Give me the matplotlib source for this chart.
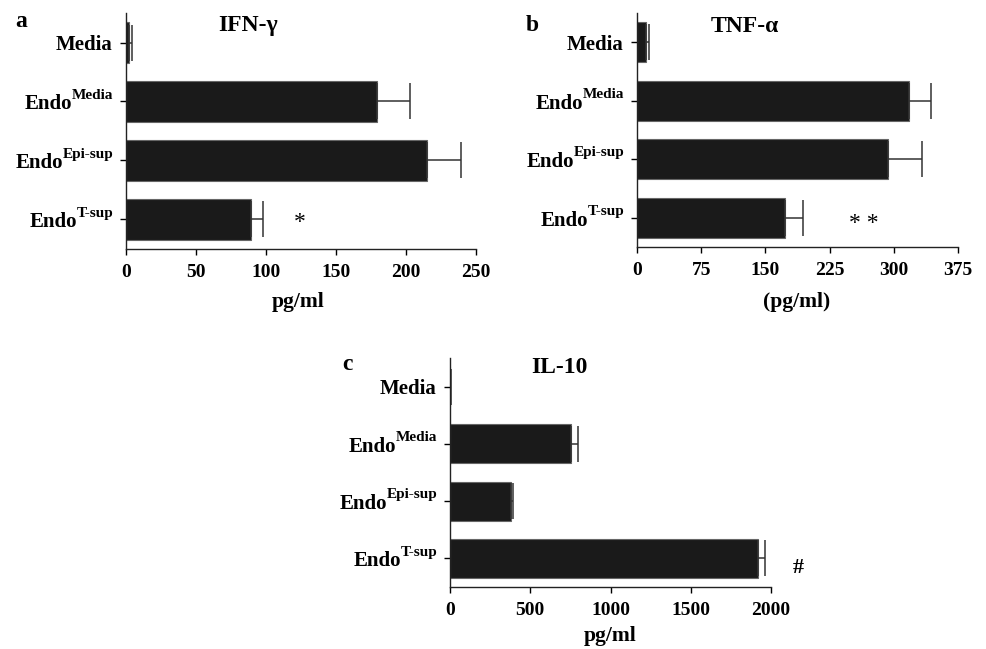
import numpy as np
import matplotlib
matplotlib.use("Agg")
import matplotlib.pyplot as plt
from matplotlib.transforms import offset_copy

plt.rcParams["font.family"] = ["Liberation Serif", "DejaVu Serif"]
plt.rcParams["font.weight"] = "bold"

# data (pg/ml)
group_base = ["Media", "Endo", "Endo", "Endo"]
group_sup = ["", "Media", "Epi-sup", "T-sup"]
ifn_mean = [2, 179, 215, 89]
ifn_err = [2.5, 24, 24, 9]
tnf_mean = [11, 318, 293, 173]
tnf_err = [3, 26, 40, 21]
il10_mean = [3, 757, 380, 1918]
il10_err = [3, 43, 11, 42]

ifn_ticks = [0, 50, 100, 150, 200, 250]
tnf_ticks = [0, 75, 150, 225, 300, 375]
il10_ticks = [0, 500, 1000, 1500, 2000]

W, H = 986, 649
fig = plt.figure(figsize=(W / 100, H / 100), dpi=100)


def px_axes(left, right, top, bottom):
    return fig.add_axes([left / W, 1 - bottom / H, (right - left) / W, (bottom - top) / H])


def ftext(x, y, s, **kw):
    fig.text(x / W, 1 - y / H, s, va="baseline", ha="center", **kw)


def ylabels(ax):
    # category labels with a real superscript, right-aligned next to the axis
    trans = ax.get_yaxis_transform()
    for i, (base, sup) in enumerate(zip(group_base, group_sup)):
        if not sup:
            ax.text(0, i, base, fontsize=15, fontweight="bold", ha="right",
                    va="center_baseline",
                    transform=offset_copy(trans, fig=fig, x=-9.5, y=0, units="points"))
            continue
        t_sup = ax.text(0, i, sup, fontsize=11, fontweight="bold", ha="right",
                        va="baseline",
                        transform=offset_copy(trans, fig=fig, x=-9, y=2.0, units="points"))
        ax.annotate(base, xy=(0, i), xycoords=(t_sup, trans), xytext=(0, -5.6),
                    textcoords="offset points", ha="right", va="baseline",
                    fontsize=15, fontweight="bold", annotation_clip=False)


def panel(ax, means, errs, ticks):
    y = np.arange(len(group_base))
    ax.barh(y, means, height=0.68, color="#1a1a1a", edgecolor="#666666", linewidth=0.8)
    ax.errorbar(means, y, xerr=[np.zeros(len(errs)), errs], fmt="none",
                ecolor="#333333", elinewidth=1.1, capsize=13, capthick=1.1)
    ax.set_ylim(len(group_base) - 0.5, -0.5)
    ax.set_xlim(ticks[0], ticks[-1])
    ax.set_xticks(ticks)
    ax.set_yticks(y)
    ax.set_yticklabels([""] * len(y))
    ylabels(ax)
    for s in ["top", "right"]:
        ax.spines[s].set_visible(False)
    for s in ["left", "bottom"]:
        ax.spines[s].set_linewidth(1.0)
        ax.spines[s].set_color("#222222")
    ax.tick_params(axis="x", length=4, width=1, pad=7, labelsize=14)
    ax.tick_params(axis="y", length=4, width=1)
    for lab in ax.get_xticklabels():
        lab.set_fontweight("bold")


ax_a = px_axes(126, 476, 13, 249)
panel(ax_a, ifn_mean, ifn_err, ifn_ticks)
ax_a.text(124, 3.05, "*", fontsize=17, fontweight="normal", ha="center", va="center")

ax_b = px_axes(637, 958, 13, 247)
panel(ax_b, tnf_mean, tnf_err, tnf_ticks)
ax_b.text(265, 3.1, "* *", fontsize=17, fontweight="normal", ha="center", va="center")

ax_c = px_axes(450, 771, 358, 587)
panel(ax_c, il10_mean, il10_err, il10_ticks)
ax_c.text(2167, 3.16, "#", fontsize=16, fontweight="bold", ha="center", va="center",
          clip_on=False)

# panel letters, titles and axis labels
ftext(21, 27, "a", fontsize=17, fontweight="bold")
ftext(532, 31, "b", fontsize=17, fontweight="bold")
ftext(347, 370, "c", fontsize=17, fontweight="bold")

ftext(248, 31.5, "IFN-\u03b3", fontsize=17, fontweight="bold")
ftext(745, 32, "TNF-\u03b1", fontsize=17, fontweight="bold")
ftext(559, 373, "IL-10", fontsize=17, fontweight="bold")

ftext(298, 307, "pg/ml", fontsize=15.5, fontweight="bold")
ftext(797, 307, "(pg/ml)", fontsize=15.5, fontweight="bold")
ftext(610, 641, "pg/ml", fontsize=15.5, fontweight="bold")

fig.savefig("out.png", dpi=100)
